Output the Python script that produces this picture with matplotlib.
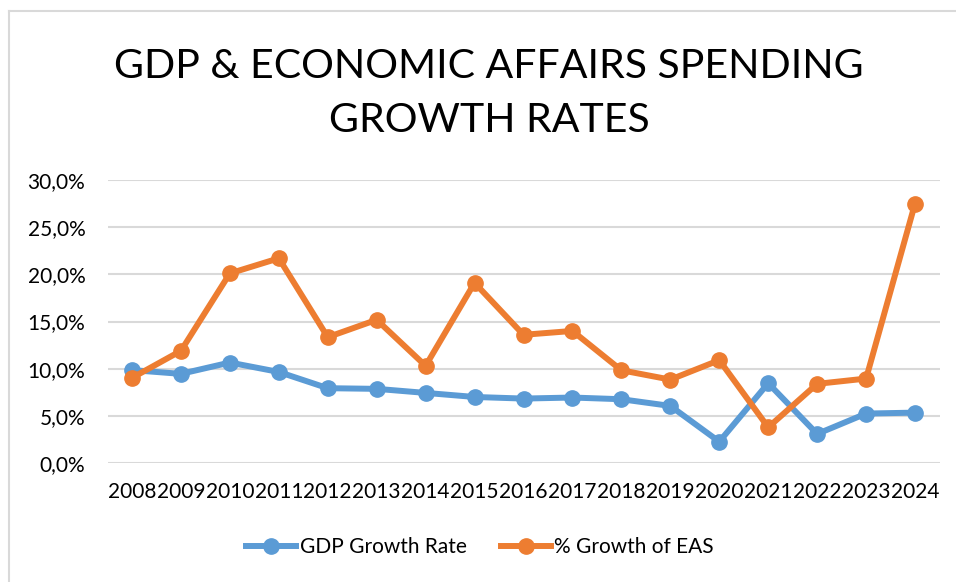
import matplotlib
matplotlib.use("Agg")
import matplotlib.pyplot as plt
from matplotlib.lines import Line2D
from matplotlib.ticker import FuncFormatter

years = ["2008", "2009", "2010", "2011", "2012", "2013", "2014", "2015", "2016",
         "2017", "2018", "2019", "2020", "2021", "2022", "2023", "2024"]
gdp_growth = [9.85, 9.45, 10.65, 9.65, 7.93, 7.86, 7.43, 7.0, 6.83,
              6.94, 6.76, 6.05, 2.26, 8.46, 3.08, 5.24, 5.34]
eas_growth = [9.02, 11.89, 20.1, 21.7, 13.34, 15.18, 10.3, 19.1, 13.59,
              14.0, 9.83, 8.84, 10.9, 3.78, 8.39, 8.95, 27.5]
yticks = [0, 5, 10, 15, 20, 25, 30]

plt.rcParams['font.family'] = ['Lato', 'DejaVu Sans']

W, H = 956, 582
fig = plt.figure(figsize=(W / 100, H / 100), dpi=100)
ax = fig.add_axes([107.5 / W, 1 - 463 / H, (939.5 - 107.5) / W, (463 - 180) / H])

blue = "#5B9BD5"
orange = "#ED7D31"
lw, ms = 4.3, 11
x = list(range(len(years)))
ax.plot(x, gdp_growth, color=blue, lw=lw, marker="o", ms=ms, zorder=3,
        solid_capstyle="round")
ax.plot(x, eas_growth, color=orange, lw=lw, marker="o", ms=ms, zorder=4,
        solid_capstyle="round")

ax.set_xlim(-0.5, len(years) - 0.5)
ax.set_ylim(0, 30)
ax.set_yticks(yticks)
ax.yaxis.set_major_formatter(FuncFormatter(lambda v, p: f"{v:.1f}%".replace(".", ",")))
ax.set_xticks(x)
ax.set_xticklabels(years)
ax.grid(axis="y", color="#D9D9D9", lw=1.5)
ax.set_axisbelow(True)
for s in ax.spines.values():
    s.set_visible(False)
ax.tick_params(axis="both", length=0, labelsize=15, colors="#000000")
ax.tick_params(axis="y", pad=16)
ax.tick_params(axis="x", pad=14)

fig.text(489 / W, 1 - 66 / H, "GDP & ECONOMIC AFFAIRS SPENDING", ha="center",
         va="center", fontsize=29.5)
fig.text(489 / W, 1 - 121 / H, "GROWTH RATES", ha="center", va="center", fontsize=29.5)

handles = [Line2D([0], [0], color=blue, lw=lw, marker="o", ms=ms),
           Line2D([0], [0], color=orange, lw=lw, marker="o", ms=ms)]
fig.legend(handles, ["GDP Growth Rate", "% Growth of EAS"], loc="center",
           bbox_to_anchor=(480 / W, 1 - 547 / H), ncol=2, frameon=False,
           fontsize=15, handlelength=2.4, handletextpad=0.15, columnspacing=1.65)

# chart border
fig.add_artist(Line2D([8.5 / W, 8.5 / W], [0, 1 - 10.5 / H], color="#D9D9D9", lw=1.5,
                      transform=fig.transFigure))
fig.add_artist(Line2D([8.5 / W, 1], [1 - 10.5 / H, 1 - 10.5 / H], color="#D9D9D9", lw=1.5,
                      transform=fig.transFigure))

fig.savefig("out.png", dpi=100)
